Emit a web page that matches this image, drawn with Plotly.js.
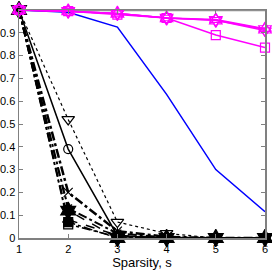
<!DOCTYPE html>
<html>
<head>
<meta charset="utf-8">
<script src="https://cdn.plot.ly/plotly-3.0.1.min.js"></script>
<style>html,body{margin:0;padding:0;background:#fff;}#chart{width:272px;height:273px;}</style>
</head>
<body>
<div id="chart"></div>
<script>
var sparsity = [1, 2, 3, 4, 5, 6];
var yTickVals = [0, 0.1, 0.2, 0.3, 0.4, 0.5, 0.6, 0.7, 0.8, 0.9];
var yTickText = ['0', '0.1', '0.2', '0.3', '0.4', '0.5', '0.6', '0.7', '0.8', '0.9'];
var xTickVals = [1, 2, 3, 4, 5, 6];

var grayRef      = [1, 1, 1, 1, 1, 1];
var blueSeries   = [1, 0.99, 0.925, 0.63, 0.30, 0.115];
var magSquare    = [1, 0.995, 0.98, 0.965, 0.89, 0.835];
var magTriUp     = [1, 0.995, 0.985, 0.965, 0.958, 0.918];
var magTriDown   = [1, 0.995, 0.985, 0.965, 0.955, 0.91];
var magHex       = [1, 0.995, 0.985, 0.965, 0.955, 0.915];
var blkTriDown   = [1, 0.52, 0.07, 0.02, 0, 0];
var blkCircle    = [1, 0.39, 0.01, 0, 0, 0];
var blkCross     = [1, 0.20, 0.03, 0.005, 0, 0];
var blkStar      = [1, 0.13, 0.02, 0.003, 0, 0];
var blkHex       = [1, 0.12, 0.0, 0, 0, 0];
var blkTriUp     = [1, 0.08, 0.012, 0, 0, 0];
var blkSquare    = [1, 0.06, 0.005, 0, 0, 0];
var blkSqFill    = [1, 0.07, 0, 0, 0, 0];

function tr(y, color, dash, width, symbol, size, lw) {
  var t = {
    x: sparsity, y: y, type: 'scatter',
    mode: symbol ? 'lines+markers' : 'lines',
    line: {color: color, dash: dash, width: width},
    cliponaxis: false, showlegend: false
  };
  if (symbol) {
    t.marker = {symbol: symbol, size: size, color: color, line: {color: color, width: lw || 1.2}};
  }
  return t;
}

var data = [
  tr(grayRef, '#909090', 'solid', 2.5, null),
  tr(blueSeries, '#0000ff', 'solid', 1.5, null),
  tr(blkSqFill, '#000000', 'dashdot', 1.5, 'square', 9),
  tr(blkHex, '#000000', 'dash', 1.5, 'hexagram', 13),
  tr(blkSquare, '#000000', 'dashdot', 1.5, 'square-open', 9),
  tr(blkTriUp, '#000000', 'dash', 1.5, 'triangle-up-open', 10),
  tr(blkStar, '#000000', 'dashdot', 2, 'asterisk-open', 9),
  tr(blkCross, '#000000', 'dashdot', 2.5, 'x-thin-open', 9),
  tr(blkCircle, '#000000', 'solid', 1.5, 'circle-open', 9),
  tr(blkTriDown, '#000000', 'dot', 1.2, 'triangle-down-open', 11),
  tr(magHex, '#ff00ff', 'solid', 1.5, 'hexagram-open', 11),
  tr(magSquare, '#ff00ff', 'solid', 1.5, 'square-open', 9),
  tr(magTriUp, '#ff00ff', 'solid', 1.5, 'triangle-up-open', 11),
  tr(magTriDown, '#ff00ff', 'solid', 1.5, 'triangle-down-open', 11)
];

var axisCommon = {
  showgrid: false, zeroline: false, showline: true, mirror: 'ticks',
  linecolor: '#808080', linewidth: 1.5, ticks: 'inside', ticklen: 4,
  tickcolor: '#808080', tickfont: {family: 'Liberation Sans, Arial, sans-serif', size: 11, color: '#000'}
};

var layout = {
  width: 272, height: 273,
  margin: {l: 19, r: 7, t: 10, b: 35},
  paper_bgcolor: '#fff', plot_bgcolor: '#fff',
  xaxis: Object.assign({}, axisCommon, {
    range: [1, 6], tickvals: xTickVals, ticktext: xTickVals.map(String),
    title: {text: 'Sparsity, s', font: {family: 'Liberation Sans, Arial, sans-serif', size: 13, color: '#000'}, standoff: 2}
  }),
  yaxis: Object.assign({}, axisCommon, {
    range: [0, 1], tickvals: yTickVals, ticktext: yTickText
  })
};

Plotly.newPlot('chart', data, layout, {displayModeBar: false, staticPlot: true});
</script>
</body>
</html>
